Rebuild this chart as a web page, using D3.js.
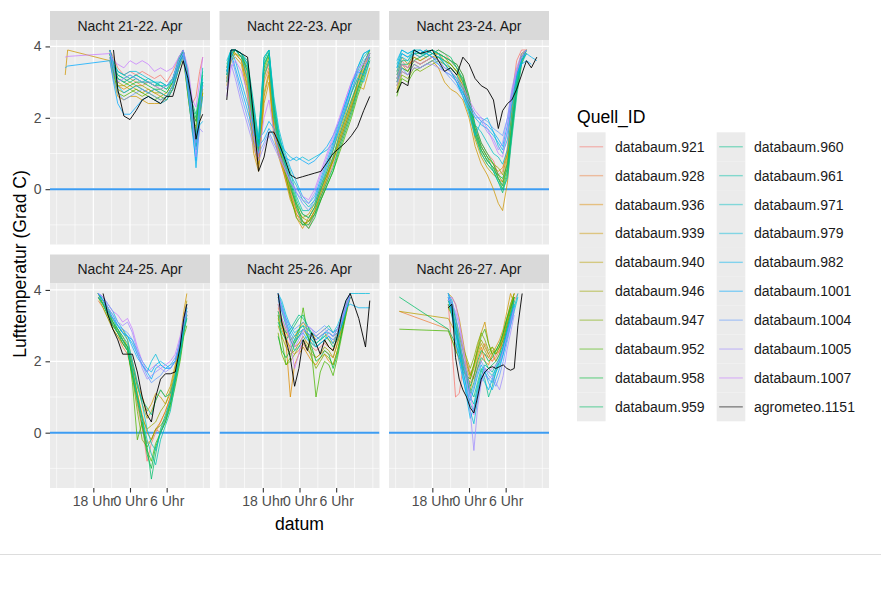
<!DOCTYPE html>
<html><head><meta charset="utf-8">
<script src="https://cdn.jsdelivr.net/npm/d3@7"></script>
<style>
body{margin:0;background:#fff;}
text{font-family:"Liberation Sans",Arial,Helvetica,sans-serif;}
</style></head>
<body><svg id="chart" width="881" height="589"></svg>
<script>
// ---------------- DATA ----------------
const sources = ["databaum.921","databaum.928","databaum.936","databaum.939","databaum.940","databaum.946","databaum.947","databaum.952","databaum.958","databaum.959","databaum.960","databaum.961","databaum.971","databaum.979","databaum.982","databaum.1001","databaum.1004","databaum.1005","databaum.1007","agrometeo.1151"];
const nights = ["Nacht 21-22. Apr","Nacht 22-23. Apr","Nacht 23-24. Apr","Nacht 24-25. Apr","Nacht 25-26. Apr","Nacht 26-27. Apr"];
// x = hours after 12:00 (noon) of the first day
const xTickValues = [6, 12, 18];
const xTickLabels = ["18 Uhr", "0 Uhr", "6 Uhr"];
const yTickValues = [0, 2, 4];
const zeroLine = [0];

const hours_2122 = [1.4,1.8,8.7,9.3,10,11,12,13,14,15,16,17,18,19,20,20.7,21.5,22.2,22.8,23.4,23.9];
const temps_2122 = [
[null,null,3.9,3.7,3.4,3.2,3.3,3.2,3.3,3.2,3.1,3.2,3.0,3.3,3.7,3.9,3.2,2.4,2.6,3.3,3.7],
[null,null,3.8,3.5,3.1,3.0,3.1,3.0,2.9,3.0,2.9,2.8,2.9,3.1,3.6,3.8,3.0,2.1,1.9,2.6,3.0],
[null,null,3.9,3.4,2.9,2.8,2.9,2.8,2.7,2.8,2.7,2.6,2.7,3.0,3.6,3.9,2.8,1.9,1.5,2.4,2.8],
[3.2,3.9,3.6,3.1,2.6,2.5,2.6,2.6,2.5,2.4,2.4,2.4,2.5,2.8,3.5,3.9,3.0,1.6,1.2,1.9,2.7],
[null,null,3.8,3.3,2.9,2.9,3.0,2.9,2.8,2.7,2.8,2.7,2.6,2.9,3.5,3.8,2.9,2.0,1.7,2.3,2.9],
[null,null,3.9,3.4,3.0,2.9,2.8,2.9,2.9,2.8,2.7,2.7,2.6,2.8,3.4,3.8,2.8,1.9,1.6,2.2,2.8],
[null,null,3.7,3.2,2.8,2.7,2.8,2.7,2.6,2.7,2.6,2.5,2.6,2.9,3.5,3.8,2.6,1.7,1.4,2.1,2.7],
[null,null,3.8,3.3,2.7,2.6,2.7,2.8,2.7,2.6,2.5,2.6,2.5,2.8,3.4,3.7,2.6,1.7,1.8,2.6,2.9],
[null,null,3.9,3.5,3.1,3.0,2.9,3.0,3.0,2.9,2.8,2.8,2.7,3.0,3.5,3.8,3.0,2.2,1.9,2.4,3.0],
[null,null,3.8,3.4,3.2,3.1,3.0,3.1,3.0,3.0,2.9,2.9,2.8,3.0,3.6,3.9,3.1,2.3,2.0,2.6,3.2],
[null,null,3.9,3.6,3.3,3.2,3.1,3.2,3.1,3.0,2.9,3.0,2.9,3.1,3.6,3.9,3.2,2.4,2.1,2.7,3.3],
[null,null,3.9,3.5,3.2,3.1,3.2,3.1,3.0,3.1,3.0,2.9,2.8,3.1,3.6,3.9,3.1,2.2,1.5,2.5,3.4],
[null,null,3.8,3.4,3.1,3.0,3.1,3.2,3.1,3.0,3.0,2.9,2.9,3.0,3.6,3.8,3.0,2.0,1.1,2.2,3.0],
[null,null,3.9,3.5,3.3,3.2,3.3,3.3,3.2,3.1,3.0,3.0,2.9,3.1,3.7,3.9,3.3,2.3,1.2,2.5,3.1],
[null,null,3.8,3.3,2.9,2.7,2.8,2.9,2.8,2.7,2.8,2.7,2.6,2.9,3.5,3.8,2.9,1.8,0.6,1.8,1.9],
[3.4,3.45,3.6,3.0,2.4,2.1,2.1,2.3,2.5,2.6,2.5,2.4,2.5,2.8,3.4,3.8,2.7,1.6,0.8,2.0,2.6],
[null,null,3.7,3.1,2.7,2.5,2.6,2.7,2.8,2.7,2.6,2.5,2.6,2.9,3.5,3.7,2.8,1.8,1.3,2.3,2.9],
[null,null,3.9,3.4,3.0,3.1,3.2,3.1,3.0,3.0,2.9,2.8,2.9,3.1,3.6,3.8,3.1,2.2,0.9,1.7,1.6],
[3.7,3.72,3.8,3.6,3.5,3.4,3.6,3.5,3.6,3.5,3.3,3.4,3.3,3.4,3.7,3.9,3.4,2.5,2.3,3.0,3.7],
[null,null,null,3.9,2.8,2.05,1.95,2.2,2.5,2.6,2.5,2.4,2.6,2.6,3.2,3.6,3.1,2.4,1.4,1.9,2.1]
];

const hours_2223 = [0.1,0.8,1.5,2.5,3.5,4.5,5.3,6.2,7,7.8,8.6,9.5,10.5,11.5,12.5,13.5,14.5,15.5,16.5,17.5,18.5,19.5,20.5,21.5,22.5,23.5];
const temps_2223 = [
[3.3,3.8,3.9,3.8,3.2,1.6,0.9,3.2,3.5,1.9,1.2,0.6,0.0,-0.6,-0.9,-1.1,-0.7,-0.3,0.2,0.7,1.2,1.7,2.2,2.8,3.3,3.8],
[3.1,3.7,3.9,3.7,3.0,1.4,0.8,3.0,3.4,1.8,1.0,0.4,-0.2,-0.7,-1.0,-0.9,-0.6,-0.1,0.4,0.9,1.4,1.9,2.4,3.0,3.5,3.9],
[3.4,3.9,3.8,3.6,2.9,1.2,0.6,2.7,3.3,1.7,1.1,0.5,-0.1,-0.8,-1.1,-0.8,-0.5,0.0,0.4,0.8,1.3,1.8,2.3,2.9,3.4,3.8],
[2.9,3.6,3.7,3.5,2.6,1.0,0.5,2.4,3.0,1.5,0.9,0.4,-0.3,-0.7,-0.9,-1.0,-0.6,-0.2,0.3,0.9,1.5,2.0,2.5,2.9,2.8,3.4],
[3.0,3.6,3.8,3.6,2.8,1.3,0.7,2.6,3.2,1.6,1.0,0.5,-0.1,-0.6,-0.8,-0.7,-0.4,0.1,0.5,1.1,1.6,2.1,2.7,3.1,3.5,3.8],
[3.2,3.7,3.8,3.7,3.1,1.5,0.9,3.1,3.6,2.0,1.2,0.6,0.1,-0.5,-0.8,-0.9,-0.6,-0.1,0.3,0.8,1.4,1.9,2.4,3.0,3.5,3.9],
[3.1,3.8,3.9,3.8,3.3,1.8,1.0,3.3,3.7,2.1,1.3,0.7,0.0,-0.4,-0.7,-0.8,-0.5,0.0,0.4,0.8,1.3,1.8,2.3,2.8,3.3,3.7],
[3.0,3.7,3.9,3.7,3.4,2.0,1.1,3.4,3.8,2.2,1.2,0.6,-0.2,-0.8,-1.0,-0.9,-0.7,-0.3,0.1,0.5,1.0,1.5,2.0,2.6,3.1,3.6],
[3.2,3.8,3.9,3.8,3.5,2.2,1.3,3.5,3.8,2.3,1.4,0.8,0.2,-0.4,-0.9,-1.1,-0.8,-0.3,0.1,0.5,1.1,1.6,2.1,2.7,3.2,3.7],
[3.3,3.8,3.9,3.7,3.3,1.9,1.2,3.6,3.9,2.4,1.5,0.8,0.1,-0.5,-1.0,-1.0,-0.7,-0.2,0.2,0.6,1.2,1.7,2.2,2.8,3.3,3.7],
[3.4,3.9,3.9,3.8,3.6,2.4,1.4,3.7,3.9,2.5,1.6,0.9,0.3,-0.3,-0.7,-0.8,-0.5,0.0,0.5,0.9,1.5,2.0,2.5,3.0,3.5,3.9],
[3.5,3.9,3.9,3.8,3.4,2.1,1.2,3.5,3.8,2.2,1.5,1.0,0.5,-0.2,-0.6,-0.6,-0.4,0.1,0.6,1.1,1.7,2.2,2.7,3.3,3.7,3.9],
[3.3,3.8,3.9,3.7,3.1,1.7,1.0,3.2,3.6,2.0,1.3,0.8,0.4,0.1,-0.3,-0.5,-0.3,0.2,0.7,1.2,1.8,2.3,2.9,3.4,3.8,3.9],
[3.6,3.9,3.9,3.8,3.5,2.3,1.4,3.7,3.9,2.6,1.7,1.1,0.9,0.8,0.9,0.8,0.9,1.0,1.1,1.3,1.7,2.2,2.7,3.1,3.0,3.6],
[3.3,3.9,3.6,3.0,2.4,1.8,1.4,1.6,1.9,1.7,1.4,1.1,0.6,0.2,-0.2,-0.4,-0.2,0.3,0.8,1.3,1.9,2.4,2.9,3.4,3.8,3.9],
[3.2,3.8,3.4,2.8,2.2,1.6,1.2,1.4,1.7,1.5,1.2,0.9,0.8,0.9,0.8,0.7,0.8,1.0,1.2,1.5,1.9,2.4,2.9,3.3,3.2,3.8],
[3.0,3.7,3.3,2.6,2.0,1.4,1.0,1.3,1.6,1.3,1.0,0.7,0.3,-0.1,-0.4,-0.6,-0.3,0.2,0.7,1.2,1.7,2.3,2.8,3.2,3.6,3.8],
[2.8,3.5,3.1,2.4,1.8,1.2,0.8,1.2,1.5,1.2,0.9,0.6,0.2,-0.1,-0.3,-0.4,-0.1,0.4,0.9,1.4,1.9,2.5,3.0,3.3,3.4,3.7],
[2.6,3.4,3.6,3.3,2.7,1.5,0.9,2.0,2.5,1.6,1.0,0.6,0.2,0.0,-0.2,-0.3,0.0,0.5,1.0,1.5,2.0,2.5,3.0,3.4,3.5,3.8],
[2.5,3.9,3.9,3.8,3.7,2.0,0.5,0.9,1.6,1.6,1.3,0.9,0.4,0.3,0.35,0.4,0.45,0.5,0.75,1.0,1.15,1.3,1.5,1.75,2.2,2.6]
];

const hours_2324 = [0.2,1,2,3,4,5,6,7,8,9,10,11,12,13,14,15,16,16.8,17.5,18.3,19,19.8,20.6,21.4,22.2,23.1];
const temps_2324 = [
[3.2,3.6,3.4,3.8,3.7,3.8,3.9,3.8,3.7,3.6,3.5,3.2,2.6,1.8,1.3,1.0,0.8,0.4,0.5,1.2,2.6,3.6,3.9,3.9,null,null],
[3.0,3.5,3.3,3.7,3.6,3.7,3.8,3.9,3.8,3.6,3.4,3.0,2.4,1.6,1.2,0.9,0.7,0.3,0.2,0.9,2.2,3.3,3.8,3.9,null,null],
[3.3,3.7,3.5,3.6,3.5,3.6,3.7,3.8,3.6,3.5,3.3,2.9,2.3,1.5,1.1,0.8,0.6,0.5,0.6,1.0,2.0,3.1,3.7,3.9,null,null],
[2.8,3.3,3.2,3.5,3.4,3.5,3.6,3.4,3.0,2.8,2.7,2.5,2.0,1.2,0.7,0.4,0.0,-0.4,-0.6,0.2,1.6,2.8,3.6,3.8,null,null],
[2.9,3.4,3.3,3.6,3.5,3.6,3.7,3.7,3.5,3.3,3.1,2.8,2.2,1.4,0.9,0.6,0.4,0.3,0.1,0.8,1.9,3.0,3.7,3.9,null,null],
[3.1,3.5,3.4,3.7,3.6,3.7,3.8,3.8,3.7,3.5,3.3,3.0,2.5,1.7,1.2,0.9,0.7,0.6,0.4,1.0,2.1,3.2,3.8,3.9,null,null],
[2.7,3.2,3.1,3.4,3.3,3.4,3.5,3.6,3.5,3.4,3.2,2.9,2.3,1.5,1.0,0.7,0.5,0.4,0.2,0.6,1.8,3.0,3.7,3.9,null,null],
[2.6,3.1,3.0,3.3,3.4,3.5,3.6,3.7,3.6,3.5,3.3,3.1,2.4,1.6,1.1,0.8,0.6,0.3,0.0,0.5,1.5,2.7,3.5,3.9,null,null],
[3.0,3.4,3.3,3.6,3.7,3.8,3.9,3.8,3.7,3.6,3.5,3.2,2.6,1.8,1.3,1.0,0.7,0.4,0.3,0.7,1.7,2.9,3.6,3.9,null,null],
[3.1,3.5,3.5,3.8,3.8,3.9,3.8,3.9,3.8,3.7,3.4,3.1,2.5,1.7,1.2,0.9,0.5,0.2,-0.1,0.4,1.6,2.8,3.6,3.8,null,null],
[3.2,3.6,3.6,3.9,3.8,3.8,3.9,3.8,3.7,3.6,3.4,3.0,2.4,1.6,1.1,0.8,0.6,0.3,0.1,0.6,1.7,2.9,3.7,3.9,null,null],
[3.4,3.8,3.7,3.9,3.8,3.7,3.8,3.7,3.6,3.4,3.2,2.8,2.2,1.5,1.0,0.7,0.5,0.2,0.0,0.3,1.4,2.6,3.5,3.8,null,null],
[3.5,3.9,3.8,3.9,3.9,3.8,3.9,3.8,3.5,3.3,3.0,2.6,2.2,1.8,1.6,1.3,1.0,0.9,0.7,1.1,2.0,3.0,3.6,3.9,null,null],
[3.3,3.7,3.6,3.8,3.7,3.8,3.7,3.6,3.4,3.3,3.0,2.6,2.1,1.5,1.9,2.0,1.6,1.2,1.0,1.4,2.3,3.1,3.7,3.9,null,null],
[3.6,3.9,3.8,3.9,3.8,3.9,3.8,3.7,3.5,3.3,3.1,2.7,2.3,2.0,1.8,1.7,1.5,1.3,1.1,1.6,2.4,3.2,3.6,3.8,3.7,3.6],
[3.4,3.8,3.7,3.8,3.9,3.8,3.7,3.5,3.3,3.2,3.0,2.7,2.4,2.1,1.9,1.8,1.6,1.4,1.2,1.8,2.6,3.2,3.5,3.6,3.5,null],
[3.0,3.4,3.2,3.5,3.4,3.5,3.6,3.5,3.3,3.1,2.9,2.6,2.3,2.0,2.0,1.9,1.7,1.6,1.5,2.0,2.7,3.3,3.7,3.8,null,null],
[2.9,3.3,3.2,3.4,3.4,3.5,3.5,3.4,3.3,3.2,3.0,2.8,2.4,2.1,1.9,1.6,1.4,1.1,1.3,2.0,2.8,3.4,3.8,3.9,null,null],
[3.1,3.5,3.4,3.6,3.5,3.6,3.7,3.6,3.4,3.3,3.1,2.9,2.5,2.2,2.0,1.7,1.3,1.0,0.9,1.7,2.6,3.3,3.7,3.9,null,null],
[2.7,3.0,2.9,3.9,3.8,3.85,3.9,3.6,3.3,3.4,3.2,3.7,3.5,3.1,2.9,2.8,2.5,1.7,2.2,2.4,2.5,2.8,3.2,3.6,3.4,3.7]
];

const hours_2425 = [6.8,7.6,8.4,9.2,10,10.8,11.6,12.4,13.2,14,14.8,15.5,16.2,17,17.8,18.6,19.4,20.2,20.8,21.3];
const temps_2425 = [
[3.8,3.6,3.3,3.0,2.8,2.5,2.3,1.8,1.0,0.2,-0.8,-0.3,0.0,0.3,0.6,1.0,1.6,2.2,2.9,3.4],
[3.7,3.5,3.2,2.9,2.7,2.4,2.2,1.6,0.8,0.1,-0.3,-0.2,0.1,0.0,0.4,0.9,1.5,2.2,2.8,3.3],
[3.9,3.6,3.4,3.0,2.8,2.6,2.3,1.7,1.1,0.5,0.0,-0.2,0.1,0.3,0.6,1.0,1.5,2.3,3.0,3.5],
[3.9,3.7,3.5,3.1,2.8,2.9,2.6,2.0,1.4,1.0,0.6,0.8,1.1,1.0,0.8,1.2,1.8,2.6,3.4,3.9],
[3.8,3.6,3.3,3.0,2.9,2.7,2.4,1.9,1.3,0.8,0.4,0.6,0.9,1.2,1.0,1.3,1.9,2.5,3.2,3.7],
[3.9,3.7,3.4,3.1,2.9,2.6,2.4,1.8,1.1,0.4,0.1,0.2,0.3,0.6,0.8,1.1,1.7,2.4,3.1,3.6],
[3.8,3.5,3.2,2.9,2.7,2.5,2.3,1.6,0.6,-0.2,-0.4,-0.2,0.1,0.2,0.4,0.8,1.4,2.1,2.8,3.3],
[3.9,3.6,3.3,3.0,2.8,2.6,2.4,1.4,-0.2,0.3,-0.5,-0.8,-0.3,0.0,0.3,0.7,1.3,2.0,2.7,3.0],
[3.8,3.6,3.3,3.1,2.8,2.5,2.3,1.6,0.9,0.2,-0.6,-1.0,-0.4,0.0,0.3,0.8,1.5,2.2,2.9,3.2],
[3.9,3.7,3.4,3.2,2.9,2.6,2.4,1.7,1.0,0.4,-0.4,-1.3,-0.6,0.1,0.5,0.9,1.5,2.3,3.0,3.4],
[3.9,3.7,3.4,3.1,2.9,2.7,2.5,1.9,1.3,0.9,0.7,0.5,0.9,1.2,1.0,1.1,1.6,2.3,2.9,3.3],
[3.8,3.6,3.3,3.0,2.8,2.6,2.3,1.7,1.0,0.4,-0.2,-0.6,-0.9,-0.2,0.2,0.6,1.4,2.1,2.8,3.2],
[3.9,3.7,3.5,3.2,3.0,2.8,2.6,2.0,1.4,0.8,0.1,-0.3,-0.5,0.0,0.4,0.9,1.6,2.3,3.0,3.4],
[3.9,3.8,3.6,3.4,3.1,2.9,2.7,2.5,2.2,1.9,1.7,2.0,2.2,1.9,1.8,1.9,2.0,2.4,3.0,3.5],
[3.9,3.8,3.5,3.3,3.0,2.8,2.7,2.6,2.3,2.0,1.8,1.7,1.9,2.0,1.9,1.8,2.0,2.5,3.1,3.6],
[3.9,3.7,3.4,3.2,3.0,2.8,2.7,2.4,2.1,1.9,1.7,1.5,1.8,1.9,1.8,1.8,2.0,2.6,3.2,3.5],
[3.8,3.7,3.4,3.2,3.0,2.9,2.8,2.6,2.2,1.9,1.6,1.4,1.5,1.6,1.8,1.9,2.1,2.5,3.0,3.3],
[3.9,3.8,3.5,3.3,3.1,3.0,3.1,2.8,2.3,1.8,1.5,1.6,1.7,1.8,1.7,1.8,2.0,2.6,3.1,3.4],
[3.9,3.8,3.6,3.4,3.3,3.1,3.2,2.9,2.4,2.0,1.7,1.8,1.9,1.8,1.9,2.0,2.2,2.7,3.2,3.6],
[null,3.9,3.3,2.9,2.6,2.2,2.2,2.2,1.7,1.0,0.5,0.3,1.0,1.5,1.65,1.65,1.7,2.4,3.2,3.6]
];

const hours_2526 = [8.5,9.1,9.8,10.5,11.2,11.9,12.6,13.3,14,14.7,15.4,16.1,16.8,17.5,18.2,18.9,19.6,20.3,21.7,22.8,23.5];
const temps_2526 = [
[3.5,3.2,2.9,2.6,2.4,2.5,2.6,2.5,2.4,2.3,2.4,2.5,2.4,2.3,2.6,3.0,3.5,3.9,null,null,null],
[3.3,3.0,2.7,2.3,2.2,2.3,2.5,2.3,2.2,2.1,2.2,2.3,2.2,2.1,2.5,2.9,3.4,3.8,null,null,null],
[3.6,3.1,2.5,1.0,1.9,2.2,2.4,2.2,2.0,1.9,2.1,2.2,2.0,1.9,2.3,2.8,3.4,3.9,null,null,null],
[3.4,3.1,2.8,2.6,2.7,2.9,3.1,2.9,2.8,2.6,2.7,2.8,2.6,2.5,2.8,3.1,3.5,3.8,null,null,null],
[3.2,2.9,2.6,2.4,2.5,2.7,2.9,2.7,2.5,2.4,2.5,2.6,2.4,2.3,2.7,3.0,3.5,3.9,null,null,null],
[3.0,2.7,2.4,2.2,2.3,2.5,2.7,2.5,2.3,2.1,2.2,2.4,2.3,2.1,2.5,2.9,3.4,3.8,null,null,null],
[2.8,2.2,1.9,2.0,2.2,2.4,2.6,2.4,2.1,1.8,2.0,2.2,2.1,1.9,2.3,2.8,3.3,3.8,null,null,null],
[3.3,2.6,1.9,2.1,2.5,2.8,3.5,2.8,2.2,1.0,1.7,2.0,1.9,1.6,2.1,2.7,3.3,3.9,null,null,null],
[2.7,2.3,2.1,2.3,2.6,2.9,3.0,2.7,2.4,2.0,2.1,2.3,2.2,1.8,2.2,2.8,3.4,3.9,null,null,null],
[3.1,2.8,2.6,2.8,3.0,3.2,3.3,3.0,2.7,2.5,2.6,2.7,2.6,2.4,2.6,3.0,3.5,3.9,null,null,null],
[3.4,3.0,2.8,2.9,3.1,3.3,3.2,3.0,2.8,2.7,2.8,2.9,3.0,2.8,2.9,3.2,3.6,3.9,null,null,null],
[3.8,3.4,3.0,2.7,2.5,2.7,2.9,2.8,2.6,2.5,2.6,2.7,2.8,2.7,2.8,3.1,3.5,3.9,null,null,null],
[3.9,3.5,3.1,2.6,2.3,2.4,2.6,2.7,2.6,2.4,2.5,2.6,2.7,2.6,2.7,3.0,3.5,3.9,null,null,null],
[3.9,3.7,3.3,3.0,2.8,2.9,3.0,2.9,2.8,2.7,2.6,2.8,2.9,2.8,3.0,3.3,3.7,3.9,3.9,3.9,3.9],
[3.9,3.6,3.2,2.9,2.7,2.8,2.9,2.8,2.7,2.6,2.7,2.8,2.8,2.7,2.9,3.2,3.5,3.6,3.5,3.5,3.5],
[3.8,3.5,3.1,2.8,2.6,2.7,2.8,2.6,2.5,2.4,2.5,2.6,2.7,2.5,2.7,3.0,3.4,3.8,null,null,null],
[3.7,3.4,3.2,3.0,2.9,3.0,3.1,3.0,2.9,2.8,2.9,3.0,2.9,2.8,2.9,3.1,3.5,3.8,null,null,null],
[3.6,3.2,2.9,2.7,2.4,2.6,2.9,2.8,2.7,2.6,2.7,2.8,2.7,2.6,2.8,3.1,3.5,3.9,null,null,null],
[3.9,3.5,3.1,2.5,1.8,2.2,2.8,3.0,2.9,2.7,2.8,2.9,2.8,2.7,2.9,3.2,3.6,3.9,null,null,null],
[3.9,3.1,2.6,2.1,1.3,1.8,2.6,2.3,2.8,2.5,2.2,2.6,2.4,2.3,2.7,3.3,3.7,3.9,3.2,2.4,3.7]
];

const hours_2627 = [0.6,8.6,9.2,9.8,10.4,11,11.6,12.2,12.8,13.4,14,14.6,15.2,15.8,16.4,17,17.6,18.2,18.8,19.4,20,20.7];
const temps_2627 = [
[null,3.6,2.4,1.0,1.1,1.8,2.0,1.7,1.5,1.8,2.0,2.2,2.1,2.0,2.2,2.3,2.5,2.9,3.3,3.7,3.9,null],
[3.4,2.9,2.6,2.4,2.0,1.7,1.6,1.4,1.6,1.9,2.2,2.5,2.2,2.0,2.1,2.3,2.6,3.0,3.4,3.8,null,null],
[null,3.7,3.5,3.0,2.4,1.9,1.5,1.2,1.6,2.1,2.4,2.0,1.9,2.2,2.0,2.2,2.7,3.1,3.5,3.9,null,null],
[null,3.9,3.8,3.6,3.2,2.6,2.0,1.6,1.9,2.4,2.8,3.1,2.5,2.2,2.4,2.6,2.9,3.4,3.9,3.6,null,null],
[3.4,3.2,3.0,2.8,2.5,2.1,1.8,1.5,1.8,2.2,2.5,2.3,2.1,2.3,2.2,2.4,2.8,3.2,3.6,3.9,null,null],
[null,3.5,3.3,3.0,2.7,2.3,1.9,1.6,1.9,2.3,2.6,2.4,2.2,2.4,2.3,2.5,2.7,3.1,3.5,3.8,null,null],
[null,3.8,3.6,3.2,2.8,2.4,2.1,1.8,2.1,2.5,2.8,2.6,2.3,2.4,2.2,2.4,2.8,3.2,3.6,3.9,null,null],
[2.9,2.85,2.6,2.3,2.1,1.8,1.6,1.5,1.9,2.3,2.7,2.9,2.5,2.2,2.3,2.4,2.6,3.0,3.4,3.8,null,null],
[null,3.6,3.3,2.8,2.4,2.0,1.7,1.3,1.6,2.0,2.3,2.2,2.0,2.1,2.3,2.5,2.8,3.2,3.5,3.8,null,null],
[3.8,2.9,2.7,2.5,2.2,1.9,1.5,1.1,1.4,1.8,2.1,2.0,1.8,1.9,2.0,2.2,2.5,2.9,3.3,3.7,null,null],
[null,3.7,3.4,3.0,2.5,2.0,1.6,1.2,1.0,1.4,1.8,1.5,1.0,1.3,1.7,2.0,2.4,2.8,3.2,3.6,null,null],
[null,3.9,3.7,3.2,2.6,2.1,1.6,1.0,0.8,1.3,1.7,1.9,1.8,1.7,1.9,2.1,2.4,2.9,3.3,3.7,null,null],
[null,3.8,3.4,2.8,2.2,1.7,1.3,0.8,0.6,1.1,1.6,1.8,1.7,1.6,1.8,2.0,2.3,2.7,3.1,3.5,3.9,null],
[null,3.9,3.6,3.0,2.4,1.8,1.2,0.6,0.25,0.9,1.5,1.7,1.5,1.4,1.7,1.9,2.2,2.6,3.0,3.4,3.8,null],
[null,3.9,3.5,2.9,2.3,1.6,1.0,0.4,0.7,1.2,1.6,1.4,1.2,1.5,1.8,2.1,2.4,2.8,3.2,3.6,null,null],
[null,3.8,3.3,2.6,2.0,1.5,1.1,0.9,1.2,1.6,1.9,1.7,1.4,1.2,1.5,1.8,2.2,2.7,3.1,3.5,null,null],
[null,3.9,3.7,3.3,2.7,2.0,1.4,1.0,1.3,1.7,2.0,1.8,1.6,1.5,1.3,1.6,2.0,2.5,3.0,3.4,null,null],
[null,3.8,3.6,3.4,3.0,2.3,1.5,0.6,-0.5,0.7,1.4,1.6,1.5,1.6,1.4,1.2,1.6,2.3,2.8,3.3,null,null],
[null,3.7,3.8,3.6,3.1,2.5,1.8,1.1,0.5,1.0,1.5,1.8,1.7,1.8,1.9,2.0,2.3,2.7,3.1,3.5,null,null],
[null,3.5,3.6,2.1,1.5,1.2,1.0,0.7,0.55,1.0,1.5,1.7,1.8,1.85,1.8,1.85,1.9,1.8,1.75,1.8,3.0,3.9]
];

const panelHours = [hours_2122, hours_2223, hours_2324, hours_2425, hours_2526, hours_2627];
const panelTemps = [temps_2122, temps_2223, temps_2324, temps_2425, temps_2526, temps_2627];

// ---------------- COLOURS (ggplot-like hue palette, polar LUV) ----------------
function hclLuv(h, c, l) {
  const hr = h * Math.PI / 180, U = c * Math.cos(hr), V = c * Math.sin(hr);
  const Y = l > 8 ? Math.pow((l + 16) / 116, 3) : l / 903.3;
  const un = 0.1978398, vn = 0.4683363;
  const u = U / (13 * l) + un, v = V / (13 * l) + vn;
  const X = 9 * Y * u / (4 * v), Z = -X / 3 - 5 * Y + 3 * Y / v;
  const g = t => { t = t <= 0.0031308 ? 12.92 * t : 1.055 * Math.pow(t, 1 / 2.4) - 0.055; return Math.round(255 * Math.max(0, Math.min(1, t))); };
  return d3.rgb(g(3.240479 * X - 1.537150 * Y - 0.498535 * Z), g(-0.969256 * X + 1.875992 * Y + 0.041556 * Z), g(0.055648 * X - 0.204043 * Y + 1.057311 * Z)).formatHex();
}
const colors = sources.map((s, i) => s.startsWith("agrometeo") ? "#000000" : hclLuv(15 + 15 * i, 100, 65));
const color = d3.scaleOrdinal().domain(sources).range(colors);

// ---------------- LAYOUT ----------------
const svg = d3.select("#chart");
svg.append("rect").attr("width", 881).attr("height", 589).attr("fill", "#fff");
const colX = [50, 219.5, 389], PW = 160;
const stripTop = [11, 254.5], stripH = 29;
const panelTop = [40, 283.5], PH = 204.5;
const xDomain = [-1.09, 25.09], yDomain = [-1.55, 4.18];
const xMinor = [0, 3, 9, 15, 21, 24], yMinor = [-1, 1, 3];

nights.forEach((name, pi) => {
  const col = pi % 3, row = Math.floor(pi / 3);
  const x0 = colX[col], y0 = panelTop[row];
  const x = d3.scaleLinear().domain(xDomain).range([x0, x0 + PW]);
  const y = d3.scaleLinear().domain(yDomain).range([y0 + PH, y0]);
  const g = svg.append("g");
  // strip
  g.append("rect").attr("x", x0).attr("y", stripTop[row]).attr("width", PW).attr("height", stripH).attr("fill", "#D9D9D9");
  g.append("text").attr("x", x0 + PW / 2).attr("y", stripTop[row] + stripH / 2 + 5).attr("text-anchor", "middle")
    .attr("font-size", 14).attr("fill", "#1A1A1A").text(name);
  // panel background
  g.append("rect").attr("x", x0).attr("y", y0).attr("width", PW).attr("height", PH).attr("fill", "#EBEBEB");
  // grid
  g.selectAll(".gxm").data(xMinor).join("line").attr("x1", d => x(d)).attr("x2", d => x(d)).attr("y1", y0).attr("y2", y0 + PH).attr("stroke", "#fff").attr("stroke-width", 0.6);
  g.selectAll(".gym").data(yMinor).join("line").attr("y1", d => y(d)).attr("y2", d => y(d)).attr("x1", x0).attr("x2", x0 + PW).attr("stroke", "#fff").attr("stroke-width", 0.6);
  g.selectAll(".gxM").data(xTickValues).join("line").attr("x1", d => x(d)).attr("x2", d => x(d)).attr("y1", y0).attr("y2", y0 + PH).attr("stroke", "#fff").attr("stroke-width", 1.2);
  g.selectAll(".gyM").data(yTickValues).join("line").attr("y1", d => y(d)).attr("y2", d => y(d)).attr("x1", x0).attr("x2", x0 + PW).attr("stroke", "#fff").attr("stroke-width", 1.2);
  // clip
  const cid = "clip" + pi;
  svg.append("clipPath").attr("id", cid).append("rect").attr("x", x0).attr("y", y0).attr("width", PW).attr("height", PH);
  const lg = g.append("g").attr("clip-path", `url(#${cid})`);
  // zero line
  lg.selectAll(".zero").data(zeroLine).join("line").attr("x1", x0).attr("x2", x0 + PW).attr("y1", d => y(d)).attr("y2", d => y(d))
    .attr("stroke", "#3D9CF2").attr("stroke-width", 2);
  const hours = panelHours[pi];
  const line = d3.line().defined(d => d.v != null).x(d => x(d.h)).y(d => y(d.v));
  panelTemps[pi].forEach((vals, si) => {
    const pts = hours.map((h, k) => ({ h, v: vals[k] === undefined ? null : vals[k] }));
    const black = sources[si].startsWith("agrometeo");
    lg.append("path").datum(pts).attr("d", line).attr("fill", "none")
      .attr("stroke", color(sources[si])).attr("stroke-width", 1)
      .attr("stroke-opacity", black ? 0.9 : 0.75).attr("stroke-linejoin", "round");
  });
  // axes
  if (row === 1) {
    const ax = svg.append("g").attr("transform", `translate(0,${y0 + PH})`)
      .call(d3.axisBottom(x).tickValues(xTickValues).tickFormat((d, i) => xTickLabels[i]).tickSize(4.5).tickPadding(3.5));
    ax.select(".domain").remove();
    ax.selectAll("line").attr("stroke", "#333333").attr("stroke-width", 1.1);
    ax.selectAll("text").attr("font-size", 14).attr("fill", "#4D4D4D").attr("font-family", "Liberation Sans, Arial, sans-serif");
  }
  if (col === 0) {
    const ay = svg.append("g").attr("transform", `translate(${x0},0)`)
      .call(d3.axisLeft(y).tickValues(yTickValues).tickFormat(d3.format("d")).tickSize(4.5).tickPadding(4));
    ay.select(".domain").remove();
    ay.selectAll("line").attr("stroke", "#333333").attr("stroke-width", 1.1);
    ay.selectAll("text").attr("font-size", 14).attr("fill", "#4D4D4D").attr("font-family", "Liberation Sans, Arial, sans-serif");
  }
});

// axis titles
svg.append("text").attr("x", 299.5).attr("y", 529.5).attr("text-anchor", "middle").attr("font-size", 17.6).attr("fill", "#000").text("datum");
svg.append("text").attr("transform", "translate(25.5,264) rotate(-90)").attr("text-anchor", "middle").attr("font-size", 17.6).attr("fill", "#000").text("Lufttemperatur (Grad C)");

// legend
svg.append("text").attr("x", 577).attr("y", 123).attr("font-size", 17.6).attr("fill", "#000").text("Quell_ID");
const keyTop = 132.3, keyH = 28.9, keyW = 28.6;
const keyX = [577, 716.7], labX = [615, 754];
sources.forEach((s, i) => {
  const c = Math.floor(i / 10), r = i % 10;
  const ky = keyTop + r * keyH;
  svg.append("rect").attr("x", keyX[c]).attr("y", ky).attr("width", keyW).attr("height", keyH).attr("fill", "#EBEBEB");
  svg.append("line").attr("x1", keyX[c] + 2.5).attr("x2", keyX[c] + keyW - 2.5).attr("y1", ky + keyH / 2).attr("y2", ky + keyH / 2)
    .attr("stroke", color(s)).attr("stroke-width", 1.4).attr("stroke-opacity", 0.45);
  svg.append("text").attr("x", labX[c]).attr("y", ky + keyH / 2 + 5).attr("font-size", 14).attr("fill", "#1A1A1A").text(s);
});

// separator line at bottom
svg.append("line").attr("x1", 0).attr("x2", 881).attr("y1", 554.5).attr("y2", 554.5).attr("stroke", "#DDDDDD").attr("stroke-width", 1);
</script>
</body></html>
